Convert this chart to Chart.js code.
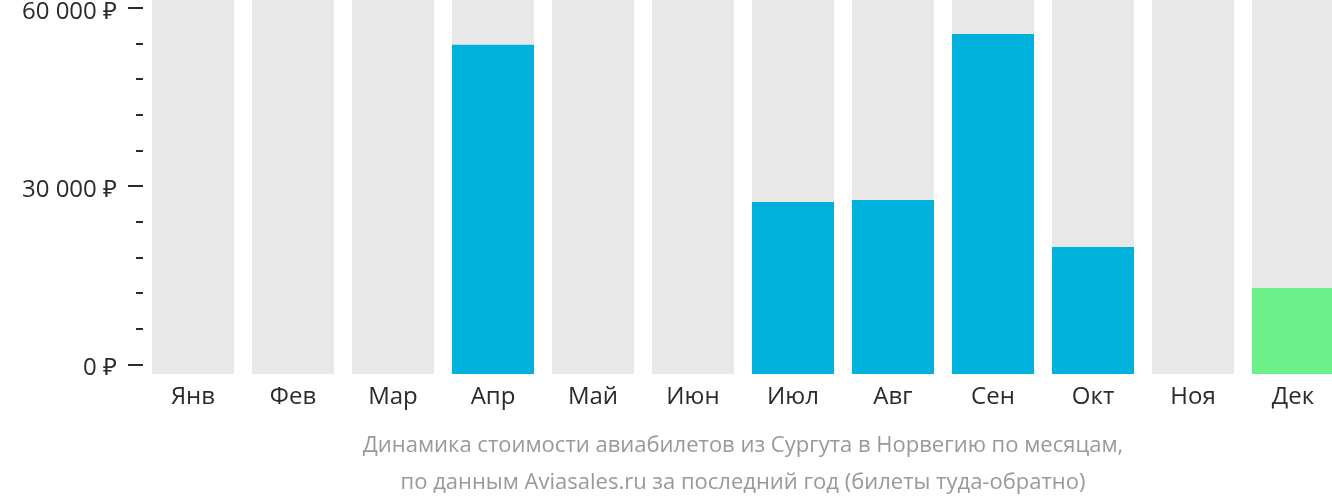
<!DOCTYPE html>
<html>
<head>
<meta charset="utf-8">
<script src="https://cdn.jsdelivr.net/npm/chart.js@4/dist/chart.umd.min.js"></script>
<style>
  html, body { margin: 0; padding: 0; background: #fff; overflow: hidden; }
  #wrap { width: 1332px; height: 502px; overflow: hidden; }
  #box { width: 1343px; height: 502px; }
</style>
</head>
<body>
<div id="wrap"><div id="box"><canvas id="priceChart"></canvas></div></div>
<script>
// Price dynamics, Surgut -> Norway
const months = ['Янв', 'Фев', 'Мар', 'Апр', 'Май', 'Июн', 'Июл', 'Авг', 'Сен', 'Окт', 'Ноя', 'Дек'];
const prices = [null, null, null, 53800, null, null, 27350, 27680, 55620, 19770, null, 12870];
const yTicks = [0, 6000, 12000, 18000, 24000, 30000, 36000, 42000, 48000, 54000, 60000];
const yLabelled = [0, 30000, 60000];
const titleLines = [
    'Динамика стоимости авиабилетов из Сургута в Норвегию по месяцам,',
    'по данным Aviasales.ru за последний год (билеты туда-обратно)'
];

const Y_MIN = -1600;
const Y_MAX = 61350;
const BLUE = '#00b1dc';
const GREEN = '#6cf18a';
const TRACK = '#e8e8e8';

Chart.defaults.font.family = "'Open Sans', 'Noto Sans', sans-serif";

function fmtRub(v) {
    return String(v).replace(/\B(?=(\d{3})+(?!\d))/g, ' ') + ' ₽';
}

// short dashes left of the plot for each y tick
const tickMarks = {
    id: 'tickMarks',
    afterDraw(chart) {
        const ctx = chart.ctx;
        const y = chart.scales.y;
        const right = chart.chartArea.left;
        ctx.save();
        ctx.strokeStyle = '#2b2b2b';
        ctx.lineWidth = 2;
        yTicks.forEach(v => {
            const py = Math.round(y.getPixelForValue(v));
            const len = yLabelled.includes(v) ? 15 : 7;
            ctx.beginPath();
            ctx.moveTo(right - len, py);
            ctx.lineTo(right, py);
            ctx.stroke();
        });
        ctx.restore();
    }
};

const ctx = document.getElementById('priceChart').getContext('2d');
new Chart(ctx, {
    type: 'bar',
    data: {
        labels: months,
        datasets: [
            {
                data: prices,
                backgroundColor: months.map((m, i) => i === months.length - 1 ? GREEN : BLUE),
                base: Y_MIN,
                grouped: false,
                order: 1
            },
            {
                // grey track behind every month
                data: months.map(() => Y_MAX),
                backgroundColor: TRACK,
                base: Y_MIN,
                grouped: false,
                order: 2
            }
        ]
    },
    options: {
        responsive: true,
        maintainAspectRatio: false,
        animation: false,
        events: [],
        layout: { padding: 0 },
        datasets: { bar: { categoryPercentage: 1, barPercentage: 0.82 } },
        scales: {
            x: {
                grid: { display: false, drawTicks: false },
                border: { display: false },
                ticks: { color: '#2b2b2b', font: { size: 24 }, padding: 9, maxRotation: 0 },
                afterFit(scale) {
                    scale.height = 46;
                    scale.paddingLeft = 0;
                    scale.paddingRight = 0;
                }
            },
            y: {
                min: Y_MIN,
                max: Y_MAX,
                grid: { display: false, drawTicks: false },
                border: { display: false },
                afterBuildTicks(scale) { scale.ticks = yTicks.map(v => ({ value: v })); },
                ticks: {
                    color: '#2b2b2b',
                    font: { size: 24 },
                    padding: 26,
                    labelOffset: 4,
                    autoSkip: false,
                    callback: v => yLabelled.includes(v) ? fmtRub(v) : ''
                },
                afterFit(scale) {
                    scale.width = 143;
                    scale.paddingTop = 0;
                    scale.paddingBottom = 0;
                }
            }
        },
        plugins: {
            legend: { display: false },
            tooltip: { enabled: false },
            title: {
                display: true,
                position: 'bottom',
                fullSize: false,
                text: titleLines,
                color: '#999',
                font: { size: 22, weight: 'normal', lineHeight: 1.68 },
                padding: { top: 7, bottom: 1 }
            }
        }
    },
    plugins: [tickMarks]
});
</script>
</body>
</html>
